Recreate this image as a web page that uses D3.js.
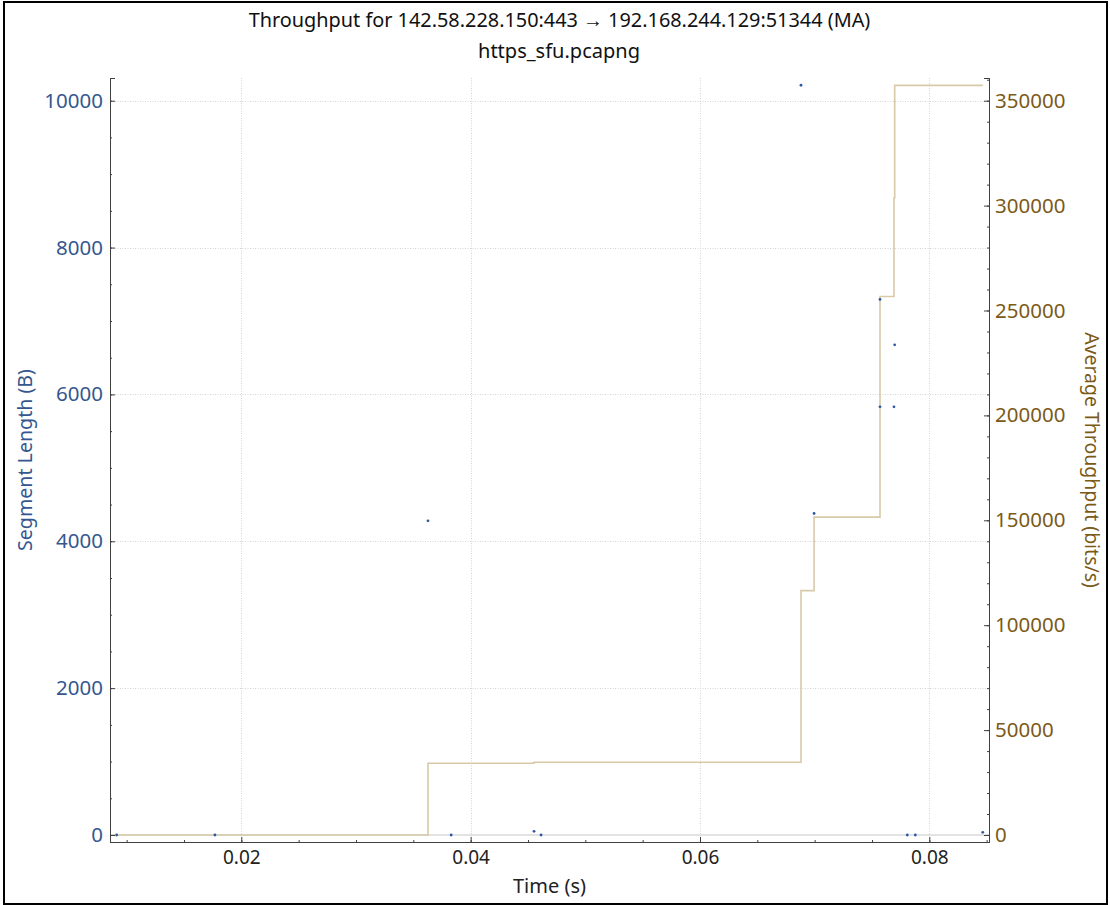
<!DOCTYPE html>
<html>
<head>
<meta charset="utf-8">
<script src="https://cdn.jsdelivr.net/npm/d3@7"></script>
<style>
  html, body { margin: 0; padding: 0; background: #ffffff; }
  svg { display: block; }
  text { font-family: "Noto Sans", "Open Sans", sans-serif; }
</style>
</head>
<body>
<svg id="chart" width="1110" height="905"></svg>
<script>
// ---------------- data ----------------
const titleLine1 = "Throughput for 142.58.228.150:443 \u2192 192.168.244.129:51344 (MA)";
const titleLine2 = "https_sfu.pcapng";
const xLabel = "Time (s)";
const yLeftLabel = "Segment Length (B)";
const yRightLabel = "Average Throughput (bits/s)";

// segment length points (time s, bytes)
const segTimes   = [0.00913, 0.0177, 0.03628, 0.0383, 0.04553, 0.04614, 0.06881, 0.06995, 0.0757, 0.0757, 0.07692, 0.07698, 0.07808, 0.07878, 0.08466];
const segLengths = [0, 0, 4278, 0, 50, 0, 10210, 4378, 7293, 5831, 5831, 6676, 0, 0, 37];

// moving-average throughput (time s, bits/s), drawn as steps
const maTimes  = [0.0, 0.00913, 0.0177, 0.03628, 0.0383, 0.04553, 0.04614, 0.06881, 0.06995, 0.0757, 0.07692, 0.07698, 0.07808, 0.07878, 0.08466];
const maValues = [0, 0, 0, 34190, 34190, 34666, 34666, 116500, 151490, 256700, 303600, 357300, 357300, 357300, 357300];

// axis ticks
const xMajorTicks = [0.02, 0.04, 0.06, 0.08];
const xTickLabels = ["0.02", "0.04", "0.06", "0.08"];
const yLeftMajorTicks = [0, 2000, 4000, 6000, 8000, 10000];
const yRightMajorTicks = [0, 50000, 100000, 150000, 200000, 250000, 300000, 350000];

// axis ranges
const xDomain = [0.008549, 0.085206];
const yLeftDomain = [-95.3, 10309];
const yRightDomain = [-3337, 360820];

// ---------------- layout / style ----------------
const plot = { left: 110, right: 989, top: 78, bottom: 842 };
const leftColor = "#35578f";
const rightColor = "#7b5a17";
const lineColor = "#d8c9a9";
const dotColor = "#2f58a3";
const axisColor = "#404040";
const gridColor = "#d4d4d4";

const svg = d3.select("#chart");

const x = d3.scaleLinear().domain(xDomain).range([plot.left, plot.right]);
const yL = d3.scaleLinear().domain(yLeftDomain).range([plot.bottom, plot.top]);
const yR = d3.scaleLinear().domain(yRightDomain).range([plot.bottom, plot.top]);

function fit(sel, target) {
  const node = sel.node();
  const fs = parseFloat(sel.attr("font-size"));
  const w = node.getComputedTextLength();
  if (w > 0) sel.attr("font-size", (fs * target / w).toFixed(2));
  return sel;
}

// outer frame
svg.append("rect").attr("x", 0).attr("y", 0).attr("width", 1110).attr("height", 905).attr("fill", "#fff");
svg.append("rect").attr("x", 4).attr("y", 2).attr("width", 1103).attr("height", 902)
  .attr("fill", "none").attr("stroke", "#000").attr("stroke-width", 2);

// titles
fit(svg.append("text").attr("x", 559.5).attr("y", 26.5).attr("text-anchor", "middle")
  .attr("font-size", 17).attr("fill", "#111").text(titleLine1), 622);
fit(svg.append("text").attr("x", 559).attr("y", 58).attr("text-anchor", "middle")
  .attr("font-size", 17).attr("fill", "#111").text(titleLine2), 162);

// clip
svg.append("clipPath").attr("id", "clip").append("rect")
  .attr("x", plot.left).attr("y", plot.top).attr("width", plot.right - plot.left).attr("height", plot.bottom - plot.top);

// grid
const grid = svg.append("g");
grid.selectAll("line.gx").data(xMajorTicks).join("line")
  .attr("x1", d => Math.round(x(d)) + 0.5).attr("x2", d => Math.round(x(d)) + 0.5)
  .attr("y1", plot.top).attr("y2", plot.bottom)
  .attr("stroke", gridColor).attr("stroke-width", 1).attr("stroke-dasharray", "1,1.5");
grid.selectAll("line.gy").data(yLeftMajorTicks.filter(d => d !== 0)).join("line")
  .attr("y1", d => Math.round(yL(d)) + 0.5).attr("y2", d => Math.round(yL(d)) + 0.5)
  .attr("x1", plot.left).attr("x2", plot.right)
  .attr("stroke", gridColor).attr("stroke-width", 1).attr("stroke-dasharray", "1,1.5");
// zero line
grid.append("line").attr("x1", plot.left).attr("x2", plot.right)
  .attr("y1", yL(0)).attr("y2", yL(0)).attr("stroke", "#dadada").attr("stroke-width", 1.5);

// step line
const maData = maTimes.map((t, i) => ({ t, v: maValues[i] }));
svg.append("path").attr("clip-path", "url(#clip)")
  .datum(maData)
  .attr("fill", "none").attr("stroke", lineColor).attr("stroke-width", 1.6)
  .attr("d", d3.line().x(d => x(d.t)).y(d => yR(d.v)).curve(d3.curveStepAfter));

// dots
const segData = segTimes.map((t, i) => ({ t, v: segLengths[i] }));
svg.append("g").attr("clip-path", "url(#clip)").selectAll("circle").data(segData).join("circle")
  .attr("cx", d => x(d.t)).attr("cy", d => yL(d.v)).attr("r", 1.4).attr("fill", dotColor);

// axes
function ticksRange(a, b, step) { const r = []; for (let v = a; v <= b + 1e-12; v += step) r.push(+v.toFixed(6)); return r; }

// bottom axis
const bx = svg.append("g").attr("transform", `translate(0,${plot.bottom})`);
bx.call(d3.axisBottom(x).tickValues(ticksRange(0.01, 0.085, 0.005)).tickSize(-2).tickFormat(""));
bx.append("g").call(d3.axisBottom(x).tickValues(xMajorTicks).tickSize(-5).tickFormat((d, i) => xTickLabels[i]).tickPadding(9));
bx.selectAll(".domain").attr("stroke", axisColor);
bx.selectAll("line").attr("stroke", axisColor);
bx.selectAll("text").attr("font-size", 19).attr("fill", "#222").attr("font-family", "Noto Sans");
bx.selectAll(".domain").filter((d, i) => i > 0).remove();

// left axis
const lx = svg.append("g").attr("transform", `translate(${plot.left},0)`);
lx.call(d3.axisLeft(yL).tickValues(ticksRange(0, 10000, 500)).tickSize(-2).tickFormat(""));
lx.append("g").call(d3.axisLeft(yL).tickValues(yLeftMajorTicks).tickSize(-5).tickFormat(d3.format("d")).tickPadding(7));
lx.selectAll("line").attr("stroke", axisColor);
lx.selectAll(".domain").attr("stroke", axisColor);
lx.selectAll("text").attr("font-size", 20.5).attr("fill", leftColor).attr("font-family", "Noto Sans");

// right axis
const rx = svg.append("g").attr("transform", `translate(${plot.right},0)`);
rx.call(d3.axisRight(yR).tickValues(ticksRange(0, 360000, 10000)).tickSize(-2).tickFormat(""));
rx.append("g").call(d3.axisRight(yR).tickValues(yRightMajorTicks).tickSize(-5).tickFormat(d3.format("d")).tickPadding(6));
rx.selectAll("line").attr("stroke", axisColor);
rx.selectAll(".domain").attr("stroke", axisColor);
rx.selectAll("text").attr("font-size", 20.5).attr("fill", rightColor).attr("font-family", "Noto Sans");

// axis titles
fit(svg.append("text").attr("x", (plot.left + plot.right) / 2).attr("y", 892.5).attr("text-anchor", "middle")
  .attr("font-size", 20).attr("fill", "#222").text(xLabel), 73);
fit(svg.append("text").attr("transform", `translate(32,${(plot.top + plot.bottom) / 2}) rotate(-90)`)
  .attr("text-anchor", "middle").attr("font-size", 19).attr("fill", leftColor).text(yLeftLabel), 182);
fit(svg.append("text").attr("transform", `translate(1085,${(plot.top + plot.bottom) / 2}) rotate(90)`)
  .attr("text-anchor", "middle").attr("font-size", 19).attr("fill", rightColor).text(yRightLabel), 256);
</script>
</body>
</html>
